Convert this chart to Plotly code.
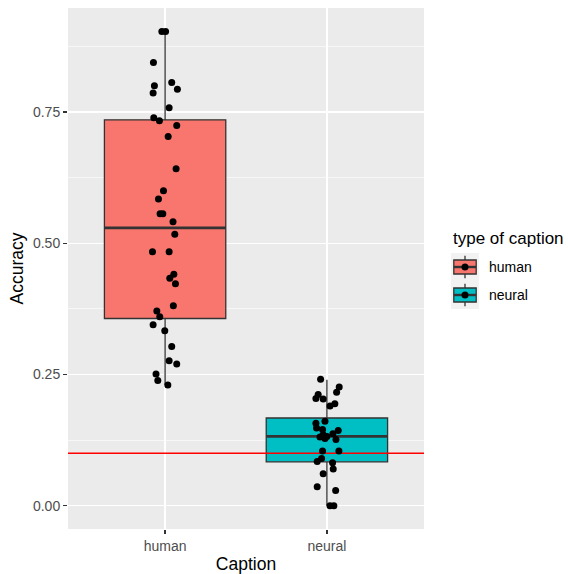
import plotly.graph_objects as go

# ---------------- data ----------------
categories = ["human", "neural"]
fill_colors = ["#F8766D", "#00BFC4"]

# box statistics
box_q1 = [0.3566, 0.0835]
box_median = [0.529, 0.132]
box_q3 = [0.735, 0.167]
box_low = [0.230, 0.000]
box_high = [0.903, 0.240]

human_acc = [0.903, 0.903, 0.844, 0.806, 0.800, 0.793, 0.786, 0.758, 0.739, 0.733,
             0.724, 0.703, 0.642, 0.600, 0.584, 0.556, 0.556, 0.541, 0.517, 0.4835,
             0.4835, 0.441, 0.433, 0.4226, 0.381, 0.371, 0.360, 0.3446, 0.333, 0.303,
             0.276, 0.270, 0.251, 0.2385, 0.230]
human_jitter = [-0.020, 0.003, -0.072, 0.041, -0.066, 0.076, -0.074, 0.025, -0.070, -0.035,
                0.072, 0.019, 0.068, -0.010, -0.041, -0.031, -0.014, 0.049, 0.060, -0.078,
                0.025, 0.054, 0.029, 0.064, 0.051, -0.051, -0.033, -0.074, -0.002, 0.041,
                0.025, 0.072, -0.056, -0.045, 0.017]

neural_acc = [0.241, 0.226, 0.216, 0.212, 0.204, 0.203, 0.194, 0.190, 0.161, 0.157,
              0.148, 0.145, 0.143, 0.137, 0.135, 0.132, 0.131, 0.128, 0.126, 0.104,
              0.104, 0.090, 0.084, 0.082, 0.070, 0.061, 0.036, 0.029, 0.000, 0.000]
neural_jitter = [-0.039, 0.076, 0.060, -0.054, -0.068, -0.023, 0.049, 0.019, -0.012, -0.068,
                 -0.064, -0.027, 0.070, 0.037, -0.023, 0.000, -0.043, -0.012, 0.056, -0.027,
                 0.074, -0.033, -0.060, 0.035, 0.039, -0.023, -0.060, 0.054, 0.019, 0.043]

chance_level = 0.1

x_title = "Caption"
y_title = "Accuracy"
legend_title = "type of caption"
y_ticks = [0.0, 0.25, 0.5, 0.75]
y_ticktext = ["0.00", "0.25", "0.50", "0.75"]

# ---------------- styling ----------------
W, H = 568, 574
ML, MR, MT, MB = 68, 144, 8, 45
FONT = "Liberation Sans"
BOX_W = 0.75
LINE_COL = "#333333"

fig = go.Figure()

for i, cat in enumerate(categories):
    fig.add_trace(go.Box(
        x=[i], q1=[box_q1[i]], median=[box_median[i]], q3=[box_q3[i]],
        lowerfence=[box_low[i]], upperfence=[box_high[i]],
        width=BOX_W, whiskerwidth=0, fillcolor=fill_colors[i],
        line=dict(color=LINE_COL, width=1.3), boxpoints=False,
        showlegend=False, hoverinfo="skip", name=cat,
    ))
    # thicker median line (ggplot fatten)
    fig.add_trace(go.Scatter(
        x=[i - BOX_W / 2, i + BOX_W / 2], y=[box_median[i], box_median[i]],
        mode="lines", line=dict(color=LINE_COL, width=2.8),
        showlegend=False, hoverinfo="skip",
    ))

# chance line
fig.add_trace(go.Scatter(
    x=[-0.6, 1.6], y=[chance_level, chance_level], mode="lines",
    line=dict(color="#FF0000", width=1.4), showlegend=False, hoverinfo="skip",
))

for i, (vals, jit) in enumerate([(human_acc, human_jitter), (neural_acc, neural_jitter)]):
    fig.add_trace(go.Scatter(
        x=[i + j for j in jit], y=vals, mode="markers",
        marker=dict(color="black", size=7, line=dict(width=0)),
        showlegend=False, hoverinfo="skip",
    ))

# ---------------- custom ggplot-like legend ----------------
PW = W - ML - MR
PH = H - MT - MB


def px2x(px):
    return (px - ML) / PW


def px2y(py):
    return (H - MB - py) / PH


shapes = []
annotations = []
annotations.append(dict(
    x=px2x(451), y=px2y(238.5), xref="paper", yref="paper", text=legend_title,
    showarrow=False, xanchor="left", yanchor="middle",
    font=dict(family=FONT, size=17, color="black"),
))
key_left, key_size = 451, 28
key_tops = [253, 281]
for i, cat in enumerate(categories):
    top = key_tops[i]
    cx = key_left + key_size / 2
    cy = top + key_size / 2
    shapes.append(dict(type="rect", xref="paper", yref="paper",
                       x0=px2x(key_left), x1=px2x(key_left + key_size),
                       y0=px2y(top + key_size), y1=px2y(top),
                       fillcolor="#F2F2F2", line=dict(width=0)))
    shapes.append(dict(type="line", xref="paper", yref="paper",
                       x0=px2x(cx), x1=px2x(cx), y0=px2y(top + 2.8), y1=px2y(top + key_size - 2.8),
                       line=dict(color=LINE_COL, width=1.3)))
    shapes.append(dict(type="rect", xref="paper", yref="paper",
                       x0=px2x(key_left + 2.8), x1=px2x(key_left + key_size - 2.8),
                       y0=px2y(top + 21), y1=px2y(top + 7),
                       fillcolor=fill_colors[i], line=dict(color=LINE_COL, width=1.3)))
    shapes.append(dict(type="line", xref="paper", yref="paper",
                       x0=px2x(key_left + 2.8), x1=px2x(key_left + key_size - 2.8),
                       y0=px2y(cy), y1=px2y(cy),
                       line=dict(color=LINE_COL, width=2.4)))
    shapes.append(dict(type="circle", xref="paper", yref="paper",
                       x0=px2x(cx - 3.5), x1=px2x(cx + 3.5),
                       y0=px2y(cy + 3.5), y1=px2y(cy - 3.5),
                       fillcolor="black", line=dict(width=0)))
    annotations.append(dict(
        x=px2x(487), y=px2y(cy), xref="paper", yref="paper", text=cat,
        showarrow=False, xanchor="left", yanchor="middle",
        font=dict(family=FONT, size=14, color="black"),
    ))

fig.update_layout(
    width=W, height=H,
    margin=dict(l=ML, r=MR, t=MT, b=MB, pad=0),
    paper_bgcolor="white", plot_bgcolor="#EBEBEB",
    font=dict(family=FONT, size=14, color="#4D4D4D"),
    shapes=shapes, annotations=annotations,
    showlegend=False, hovermode=False,
    xaxis=dict(
        range=[-0.6, 1.6], tickvals=[0, 1], ticktext=categories,
        showgrid=True, gridcolor="white", gridwidth=1.3, zeroline=False,
        ticks="outside", ticklen=4, tickwidth=1.2, tickcolor=LINE_COL,
        tickfont=dict(family=FONT, size=14, color="#4D4D4D"),
        title=dict(text=x_title, font=dict(family=FONT, size=17.5, color="black"), standoff=6),
        automargin=False, showline=False,
    ),
    yaxis=dict(
        range=[-0.0444, 0.948], tickvals=y_ticks, ticktext=y_ticktext,
        showgrid=True, gridcolor="white", gridwidth=1.3, zeroline=False,
        minor=dict(tickvals=[0.125, 0.375, 0.625, 0.875], showgrid=True,
                   gridcolor="white", gridwidth=0.6, ticks=""),
        ticks="outside", ticklen=4, tickwidth=1.2, tickcolor=LINE_COL,
        tickfont=dict(family=FONT, size=14, color="#4D4D4D"),
        title=dict(text=y_title, font=dict(family=FONT, size=17.5, color="black"), standoff=4),
        automargin=False, showline=False,
    ),
)

fig.write_html("out.html", config={"displayModeBar": False, "staticPlot": True})

# remove the browser's default page margin so the figure sits at the window's corner
with open("out.html", "r", encoding="utf-8") as f:
    html = f.read()
html = html.replace("<head>", "<head><style>html,body{margin:0;padding:0;}</style>", 1)
with open("out.html", "w", encoding="utf-8") as f:
    f.write(html)
